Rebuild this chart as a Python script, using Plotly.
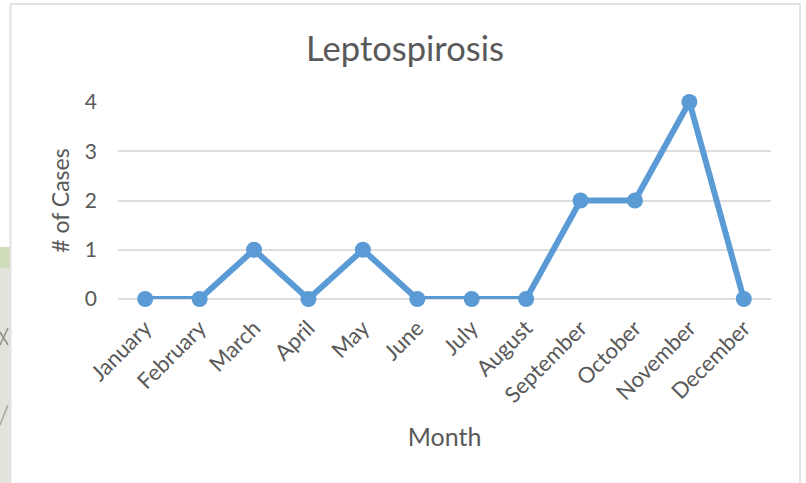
import plotly.graph_objects as go

months = ["January","February","March","April","May","June","July","August","September","October","November","December"]
cases = [0,0,1,0,1,0,0,0,2,2,4,0]
y_ticks = [0,1,2,3,4]
title = "Leptospirosis"
x_title = "Month"
y_title = "# of Cases"

W, H = 806, 483
L, R, T, B = 118, 35, 102, 184

def px(x): return (x - L) / (W - L - R)
def py(y): return 1 - (y - T) / (H - T - B)

def seg(x0, y0, x1, y1, color, width=1.5):
    return dict(type="line", xref="paper", yref="paper", x0=px(x0), y0=py(y0), x1=px(x1), y1=py(y1),
                line=dict(color=color, width=width), layer="below")

fig = go.Figure(go.Scatter(x=months, y=cases, mode="lines+markers",
    line=dict(color="#5B9BD5", width=6), marker=dict(color="#5B9BD5", size=16), cliponaxis=False))
shapes = [
    dict(type="rect", xref="paper", yref="paper", x0=px(0), x1=px(10), y0=py(247), y1=py(483), fillcolor="#E2E4DC", line_width=0, layer="below"),
    dict(type="rect", xref="paper", yref="paper", x0=px(0), x1=px(10), y0=py(247), y1=py(268), fillcolor="#CFDDB9", line_width=0, layer="below"),
    seg(0, 332, 8, 345, "#8E8E88"),
    seg(0, 345, 8, 328, "#8E8E88"),
    seg(0, 425, 8, 405, "#A3A9A0"),
    dict(type="path", xref="paper", yref="paper", path=f"M {px(10.5)} {py(4)} L {px(800)} {py(4)} L {px(800)} {py(483)} M {px(10.5)} {py(4)} L {px(10.5)} {py(483)}",
         line=dict(color="#E2E2E2", width=2), layer="below"),
]
fig.update_layout(width=W, height=H, autosize=False, paper_bgcolor="white", plot_bgcolor="rgba(0,0,0,0)",
    margin=dict(l=L, r=R, t=T, b=B), showlegend=False, shapes=shapes,
    font=dict(family="Lato, Noto Sans, sans-serif", color="#595959"),
    title=dict(text=title, x=px(405), xanchor="center", xref="paper", y=1-49/H, yanchor="middle", font=dict(size=34.5, color="#595959")))
fig.update_xaxes(title=dict(text=x_title, font=dict(size=25), standoff=21), tickangle=-45, tickfont=dict(size=22), ticklabelstandoff=11,
    showgrid=False, showline=False, zeroline=False, ticks="", range=[-0.5,11.5], automargin=False)
fig.update_yaxes(title=dict(text=y_title, font=dict(size=23), standoff=8), tickvals=y_ticks, tickfont=dict(size=21), ticklabelstandoff=20,
    range=[0,4], showgrid=True, gridcolor="#DEDEDE", gridwidth=2, zeroline=True, zerolinecolor="#DEDEDE", zerolinewidth=2, showline=False, ticks="", automargin=False)
fig.write_html("out.html", config=dict(displayModeBar=False), post_script="document.body.style.margin='0';document.body.style.overflow='hidden';")
